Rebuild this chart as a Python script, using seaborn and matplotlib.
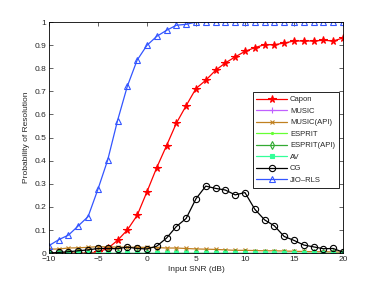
import numpy as np
import pandas as pd
import matplotlib
matplotlib.use("Agg")
import matplotlib.pyplot as plt
import seaborn as sns

snr = list(range(-10, 21))

capon = [0, 0, 0, 0, 0, 0.005, 0.02, 0.055, 0.10, 0.163, 0.265, 0.37, 0.465, 0.562,
         0.638, 0.712, 0.748, 0.791, 0.823, 0.849, 0.873, 0.889, 0.902, 0.902, 0.909,
         0.918, 0.918, 0.918, 0.921, 0.918, 0.931]
music = [0.0] * 31
music_api = [0.017, 0.018, 0.022, 0.023, 0.025, 0.028, 0.027, 0.026, 0.026, 0.025, 0.025,
             0.024, 0.022, 0.022, 0.02, 0.018, 0.017, 0.016, 0.014, 0.012, 0.012, 0.011,
             0.01, 0.01, 0.009, 0.008, 0.007, 0.006, 0.006, 0.005, 0.004]
esprit = [0.0] * 31
esprit_api = [0.0] * 31
av = [0.0] * 31
cg = [0.0, 0.003, 0.006, 0.01, 0.014, 0.02, 0.02, 0.019, 0.026, 0.02, 0.018, 0.03, 0.065,
      0.115, 0.15, 0.235, 0.29, 0.28, 0.273, 0.252, 0.262, 0.19, 0.144, 0.118, 0.072,
      0.055, 0.035, 0.027, 0.019, 0.02, 0.004]
jio_rls = [0.032, 0.058, 0.078, 0.118, 0.158, 0.276, 0.403, 0.573, 0.722, 0.835, 0.899,
           0.938, 0.964, 0.986, 0.99] + [1.0] * 16

series = {
    "Capon": capon,
    "MUSIC": music,
    "MUSIC(API)": music_api,
    "ESPRIT": esprit,
    "ESPRIT(API)": esprit_api,
    "AV": av,
    "CG": cg,
    "JIO\u2013RLS": jio_rls,
}

styles = {
    "Capon": dict(color="#ff0000", marker="*", mfc="#ff0000", ms=5.5),
    "MUSIC": dict(color="#c060ff", marker="+", mfc="#c060ff", ms=4.5),
    "MUSIC(API)": dict(color="#c08020", marker="x", mfc="#c08020", ms=3.5),
    "ESPRIT": dict(color="#66ff33", marker=".", mfc="#66ff33", ms=3),
    "ESPRIT(API)": dict(color="#33aa33", marker="d", mfc="none", ms=4),
    "AV": dict(color="#33ff99", marker="s", mfc="#33ff99", ms=3),
    "CG": dict(color="black", marker="o", mfc="none", ms=4.5),
    "JIO\u2013RLS": dict(color="#3355ff", marker="^", mfc="none", ms=4.5),
}

df = pd.DataFrame(series)
df["snr"] = snr

sns.set_style("white")
plt.rcParams["font.family"] = ["Liberation Sans", "DejaVu Sans"]

fig = plt.figure(figsize=(3.79, 2.86), dpi=100)
ax = fig.add_axes([0.129, 0.115, 0.776, 0.808])

for name in series:
    st = styles[name]
    sns.lineplot(data=df, x="snr", y=name, ax=ax, color=st["color"], marker=st["marker"],
                 markersize=st["ms"], markerfacecolor=st["mfc"], markeredgecolor=st["color"],
                 markeredgewidth=0.8, linewidth=0.9, label=name)

ax.set_xlim(-10, 20)
ax.set_ylim(0, 1)
ax.set_xticks(range(-10, 21, 5))
ax.set_yticks(np.arange(0, 1.01, 0.1))
ax.set_yticklabels(["0", "0.1", "0.2", "0.3", "0.4", "0.5", "0.6", "0.7", "0.8", "0.9", "1"])
ax.tick_params(direction="in", length=3, width=0.5, labelsize=6, top=True, right=True,
               bottom=True, left=True, pad=2)
for sp in ax.spines.values():
    sp.set_color("black")
    sp.set_linewidth(0.6)
ax.set_xlabel("Input SNR (dB)", fontsize=6, labelpad=2)
ax.set_ylabel("Probability of Resolution", fontsize=6, labelpad=3)

leg = ax.legend(loc="upper right", bbox_to_anchor=(0.986, 0.697), borderaxespad=0,
                fontsize=5.5, fancybox=False, framealpha=1, edgecolor="black",
                handlelength=4, handletextpad=0.4, labelspacing=0.55, borderpad=0.5)
leg.get_frame().set_linewidth(0.6)

fig.savefig("out.png", dpi=100)
